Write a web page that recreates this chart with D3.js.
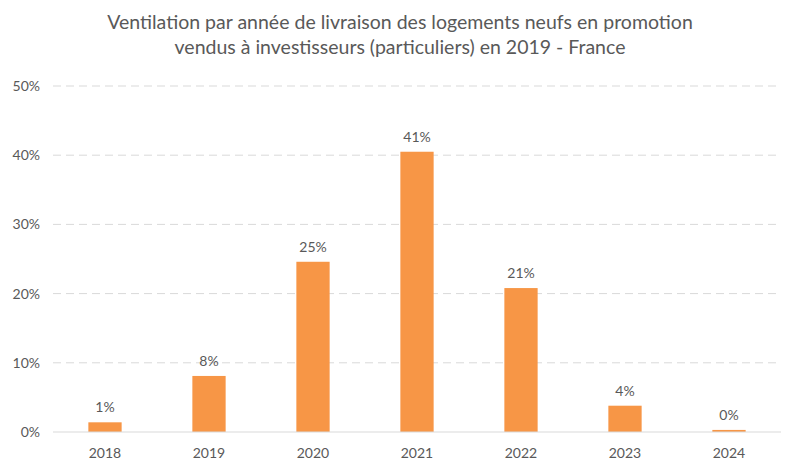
<!DOCTYPE html>
<html><head><meta charset="utf-8">
<script src="https://cdn.jsdelivr.net/npm/d3@7"></script>
<style>body{margin:0;background:#fff}svg{display:block}</style>
</head><body>
<svg id="c" width="800" height="473"></svg>
<script>
const years = ["2018","2019","2020","2021","2022","2023","2024"];
const values = [1.4, 8.1, 24.6, 40.5, 20.8, 3.8, 0.3];
const labels = ["1%","8%","25%","41%","21%","4%","0%"];
const yTicks = [0,10,20,30,40,50];
const titleLines = ["Ventilation par année de livraison des logements neufs en promotion","vendus à investisseurs (particuliers) en 2019 - France"];

(function(){
const svg = d3.select("#c");
const font = "Lato, 'Open Sans', sans-serif";
const col = "#595959";
const mLeft = 53, mRight = 781, mTop = 86, mBottom = 432;
const x = d3.scaleBand().domain(years).range([mLeft, mRight]).paddingInner(0.68).paddingOuter(0.34);
const y = d3.scaleLinear().domain([0,50]).range([mBottom, mTop]);

svg.append("g").selectAll("line").data(yTicks.filter(d=>d>0)).join("line")
  .attr("x1", mLeft).attr("x2", mRight).attr("y1", d=>y(d)).attr("y2", d=>y(d))
  .attr("stroke", "#d9d9d9").attr("stroke-width", 1).attr("stroke-dasharray", "8,5");

svg.append("g").selectAll("text").data(yTicks).join("text")
  .attr("x", 40).attr("y", d=>y(d)).attr("dy", "0.35em").attr("text-anchor", "end")
  .attr("font-family", font).attr("font-size", 14).attr("fill", col).text(d=>d+"%");

svg.append("g").selectAll("rect").data(values).join("rect")
  .attr("x", (d,i)=>x(years[i])).attr("width", x.bandwidth())
  .attr("y", d=>y(d)).attr("height", d=>mBottom - y(d)).attr("fill", "#f79646");

svg.append("line").attr("x1", mLeft).attr("x2", mRight).attr("y1", mBottom).attr("y2", mBottom)
  .attr("stroke", "#d9d9d9").attr("stroke-width", 1.2);

svg.append("g").selectAll("text").data(values).join("text")
  .attr("x", (d,i)=>x(years[i]) + x.bandwidth()/2).attr("y", d=>y(d) - 10)
  .attr("text-anchor", "middle").attr("font-family", font).attr("font-size", 14).attr("fill", col)
  .text((d,i)=>labels[i]);

svg.append("g").selectAll("text").data(years).join("text")
  .attr("x", d=>x(d) + x.bandwidth()/2).attr("y", 458)
  .attr("text-anchor", "middle").attr("font-family", font).attr("font-size", 14).attr("fill", col)
  .text(d=>d);

svg.append("g").selectAll("text").data(titleLines).join("text")
  .attr("x", 400).attr("y", (d,i)=>29 + i*25).attr("text-anchor", "middle")
  .attr("font-family", font).attr("font-size", 19.5).attr("fill", col).text(d=>d);
})();
</script>
</body></html>
